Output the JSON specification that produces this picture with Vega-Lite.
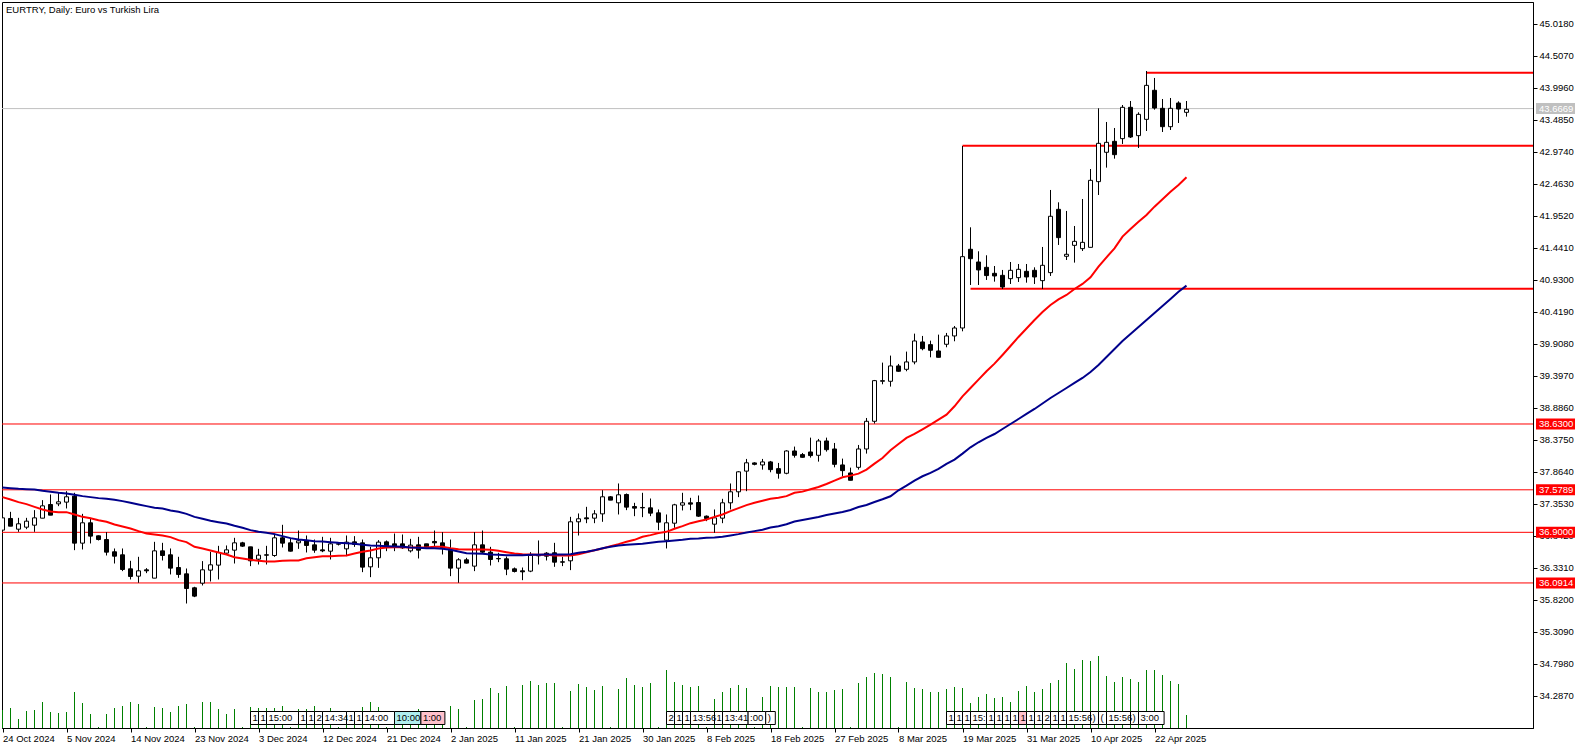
{
  "$schema": "https://vega.github.io/schema/vega-lite/v6.json",
  "width": 1531,
  "height": 726,
  "padding": {"left": 2, "top": 2, "right": 53, "bottom": 21},
  "autosize": "none",
  "background": "white",
  "title": {"text": "EURTRY, Daily:  Euro vs Turkish Lira", "anchor": "start", "frame": "group", "font": "Liberation Sans", "fontSize": 9.5, "fontWeight": "normal", "color": "#000000", "baseline": "top", "offset": -12, "dx": 4},
  "config": {
    "view": {"stroke": "#000000", "strokeWidth": 1},
    "scale": {"continuousPadding": 0},
    "axis": {"grid": false, "domainColor": "#000000", "tickColor": "#000000", "labelColor": "#000000", "labelFont": "Liberation Sans", "labelFontSize": 9.5, "labelOverlap": false, "labelFlush": false, "tickSize": 4, "labelPadding": 2, "title": null}
  },
  "datasets": {
    "bars": [
      {"bar":0,"open":36.935,"high":37.131,"low":36.935,"close":37.131,"volume":18,"ma20":37.462,"ma50":37.616},
      {"bar":1,"open":37.121,"high":37.227,"low":36.998,"close":36.998,"volume":20,"ma20":37.424,"ma50":37.605},
      {"bar":2,"open":36.950,"high":37.131,"low":36.908,"close":37.036,"volume":9,"ma20":37.382,"ma50":37.595},
      {"bar":3,"open":36.982,"high":37.131,"low":36.950,"close":37.078,"volume":17,"ma20":37.350,"ma50":37.589},
      {"bar":4,"open":37.014,"high":37.254,"low":36.908,"close":37.131,"volume":18,"ma20":37.307,"ma50":37.584},
      {"bar":5,"open":37.126,"high":37.414,"low":37.126,"close":37.323,"volume":26,"ma20":37.265,"ma50":37.563},
      {"bar":6,"open":37.344,"high":37.504,"low":37.174,"close":37.174,"volume":16,"ma20":37.233,"ma50":37.547},
      {"bar":7,"open":37.355,"high":37.531,"low":37.318,"close":37.387,"volume":15,"ma20":37.222,"ma50":37.531},
      {"bar":8,"open":37.382,"high":37.557,"low":37.281,"close":37.467,"volume":16,"ma20":37.222,"ma50":37.520},
      {"bar":9,"open":37.478,"high":37.531,"low":36.615,"close":36.727,"volume":36,"ma20":37.185,"ma50":37.499},
      {"bar":10,"open":36.727,"high":37.195,"low":36.626,"close":37.052,"volume":25,"ma20":37.147,"ma50":37.478},
      {"bar":11,"open":37.052,"high":37.131,"low":36.722,"close":36.839,"volume":14,"ma20":37.126,"ma50":37.462},
      {"bar":12,"open":36.844,"high":36.849,"low":36.770,"close":36.785,"volume":1,"ma20":37.094,"ma50":37.446},
      {"bar":13,"open":36.785,"high":36.903,"low":36.530,"close":36.583,"volume":14,"ma20":37.068,"ma50":37.435},
      {"bar":14,"open":36.589,"high":36.642,"low":36.402,"close":36.519,"volume":20,"ma20":37.025,"ma50":37.419},
      {"bar":15,"open":36.541,"high":36.642,"low":36.280,"close":36.306,"volume":22,"ma20":36.993,"ma50":37.398},
      {"bar":16,"open":36.317,"high":36.445,"low":36.147,"close":36.195,"volume":26,"ma20":36.961,"ma50":37.371},
      {"bar":17,"open":36.200,"high":36.509,"low":36.094,"close":36.285,"volume":24,"ma20":36.919,"ma50":37.344},
      {"bar":18,"open":36.301,"high":36.328,"low":36.248,"close":36.285,"volume":1,"ma20":36.881,"ma50":37.318},
      {"bar":19,"open":36.168,"high":36.748,"low":36.168,"close":36.604,"volume":21,"ma20":36.865,"ma50":37.291},
      {"bar":20,"open":36.604,"high":36.732,"low":36.450,"close":36.530,"volume":20,"ma20":36.849,"ma50":37.281},
      {"bar":21,"open":36.541,"high":36.642,"low":36.227,"close":36.328,"volume":16,"ma20":36.823,"ma50":37.249},
      {"bar":22,"open":36.338,"high":36.509,"low":36.173,"close":36.227,"volume":22,"ma20":36.775,"ma50":37.227},
      {"bar":23,"open":36.237,"high":36.322,"low":35.763,"close":36.003,"volume":24,"ma20":36.743,"ma50":37.195},
      {"bar":24,"open":36.014,"high":36.030,"low":35.865,"close":35.881,"volume":1,"ma20":36.668,"ma50":37.147},
      {"bar":25,"open":36.088,"high":36.440,"low":36.051,"close":36.301,"volume":26,"ma20":36.642,"ma50":37.116},
      {"bar":26,"open":36.296,"high":36.589,"low":36.115,"close":36.381,"volume":26,"ma20":36.610,"ma50":37.084},
      {"bar":27,"open":36.376,"high":36.684,"low":36.147,"close":36.578,"volume":19,"ma20":36.578,"ma50":37.062},
      {"bar":28,"open":36.567,"high":36.690,"low":36.541,"close":36.620,"volume":14,"ma20":36.546,"ma50":37.041},
      {"bar":29,"open":36.615,"high":36.812,"low":36.402,"close":36.732,"volume":19,"ma20":36.503,"ma50":37.004},
      {"bar":30,"open":36.732,"high":36.748,"low":36.668,"close":36.679,"volume":1,"ma20":36.482,"ma50":36.972},
      {"bar":31,"open":36.668,"high":36.668,"low":36.360,"close":36.445,"volume":21,"ma20":36.461,"ma50":36.935},
      {"bar":32,"open":36.471,"high":36.636,"low":36.386,"close":36.535,"volume":20,"ma20":36.445,"ma50":36.908},
      {"bar":33,"open":36.541,"high":36.684,"low":36.386,"close":36.535,"volume":20,"ma20":36.434,"ma50":36.892},
      {"bar":34,"open":36.530,"high":36.881,"low":36.509,"close":36.812,"volume":20,"ma20":36.434,"ma50":36.871},
      {"bar":35,"open":36.812,"high":37.020,"low":36.658,"close":36.727,"volume":22,"ma20":36.445,"ma50":36.839},
      {"bar":36,"open":36.732,"high":36.796,"low":36.594,"close":36.599,"volume":1,"ma20":36.450,"ma50":36.807},
      {"bar":37,"open":36.732,"high":36.929,"low":36.636,"close":36.764,"volume":19,"ma20":36.450,"ma50":36.785},
      {"bar":38,"open":36.764,"high":36.849,"low":36.578,"close":36.690,"volume":19,"ma20":36.487,"ma50":36.775},
      {"bar":39,"open":36.700,"high":36.785,"low":36.573,"close":36.615,"volume":22,"ma20":36.503,"ma50":36.759},
      {"bar":40,"open":36.620,"high":36.828,"low":36.583,"close":36.604,"volume":12,"ma20":36.519,"ma50":36.754},
      {"bar":41,"open":36.599,"high":36.812,"low":36.466,"close":36.716,"volume":20,"ma20":36.519,"ma50":36.743},
      {"bar":42,"open":36.716,"high":36.732,"low":36.690,"close":36.711,"volume":1,"ma20":36.525,"ma50":36.732},
      {"bar":43,"open":36.636,"high":36.849,"low":36.519,"close":36.743,"volume":14,"ma20":36.530,"ma50":36.727},
      {"bar":44,"open":36.748,"high":36.839,"low":36.668,"close":36.706,"volume":14,"ma20":36.562,"ma50":36.716},
      {"bar":45,"open":36.732,"high":36.785,"low":36.264,"close":36.344,"volume":21,"ma20":36.589,"ma50":36.700},
      {"bar":46,"open":36.349,"high":36.668,"low":36.184,"close":36.493,"volume":26,"ma20":36.610,"ma50":36.690},
      {"bar":47,"open":36.493,"high":36.775,"low":36.333,"close":36.743,"volume":21,"ma20":36.642,"ma50":36.684},
      {"bar":48,"open":36.748,"high":36.770,"low":36.599,"close":36.668,"volume":1,"ma20":36.658,"ma50":36.679},
      {"bar":49,"open":36.716,"high":36.881,"low":36.599,"close":36.668,"volume":12,"ma20":36.663,"ma50":36.674},
      {"bar":50,"open":36.716,"high":36.865,"low":36.636,"close":36.652,"volume":12,"ma20":36.663,"ma50":36.668},
      {"bar":51,"open":36.604,"high":36.796,"low":36.578,"close":36.695,"volume":12,"ma20":36.658,"ma50":36.658},
      {"bar":52,"open":36.700,"high":36.828,"low":36.482,"close":36.615,"volume":19,"ma20":36.658,"ma50":36.652},
      {"bar":53,"open":36.716,"high":36.716,"low":36.652,"close":36.668,"volume":12,"ma20":36.658,"ma50":36.647},
      {"bar":54,"open":36.754,"high":36.929,"low":36.668,"close":36.732,"volume":12,"ma20":36.668,"ma50":36.647},
      {"bar":55,"open":36.732,"high":36.903,"low":36.546,"close":36.647,"volume":12,"ma20":36.668,"ma50":36.636},
      {"bar":56,"open":36.615,"high":36.785,"low":36.200,"close":36.328,"volume":22,"ma20":36.647,"ma50":36.620},
      {"bar":57,"open":36.328,"high":36.487,"low":36.094,"close":36.461,"volume":19,"ma20":36.631,"ma50":36.594},
      {"bar":58,"open":36.461,"high":36.493,"low":36.402,"close":36.408,"volume":1,"ma20":36.626,"ma50":36.567},
      {"bar":59,"open":36.360,"high":36.903,"low":36.280,"close":36.700,"volume":28,"ma20":36.626,"ma50":36.562},
      {"bar":60,"open":36.700,"high":36.929,"low":36.562,"close":36.583,"volume":29,"ma20":36.626,"ma50":36.557},
      {"bar":61,"open":36.583,"high":36.668,"low":36.370,"close":36.466,"volume":40,"ma20":36.620,"ma50":36.546},
      {"bar":62,"open":36.482,"high":36.573,"low":36.423,"close":36.477,"volume":35,"ma20":36.604,"ma50":36.541},
      {"bar":63,"open":36.477,"high":36.514,"low":36.216,"close":36.312,"volume":42,"ma20":36.583,"ma50":36.535},
      {"bar":64,"open":36.317,"high":36.338,"low":36.259,"close":36.275,"volume":1,"ma20":36.562,"ma50":36.535},
      {"bar":65,"open":36.285,"high":36.338,"low":36.136,"close":36.269,"volume":43,"ma20":36.551,"ma50":36.535},
      {"bar":66,"open":36.280,"high":36.583,"low":36.264,"close":36.530,"volume":47,"ma20":36.546,"ma50":36.541},
      {"bar":67,"open":36.541,"high":36.770,"low":36.386,"close":36.525,"volume":43,"ma20":36.541,"ma50":36.541},
      {"bar":68,"open":36.567,"high":36.583,"low":36.450,"close":36.519,"volume":45,"ma20":36.541,"ma50":36.546},
      {"bar":69,"open":36.573,"high":36.732,"low":36.349,"close":36.423,"volume":45,"ma20":36.530,"ma50":36.546},
      {"bar":70,"open":36.429,"high":36.509,"low":36.360,"close":36.423,"volume":1,"ma20":36.530,"ma50":36.546},
      {"bar":71,"open":36.445,"high":37.147,"low":36.296,"close":37.068,"volume":37,"ma20":36.530,"ma50":36.551},
      {"bar":72,"open":37.068,"high":37.201,"low":36.849,"close":37.116,"volume":44,"ma20":36.551,"ma50":36.573},
      {"bar":73,"open":37.131,"high":37.307,"low":37.046,"close":37.116,"volume":41,"ma20":36.583,"ma50":36.589},
      {"bar":74,"open":37.126,"high":37.254,"low":37.046,"close":37.195,"volume":38,"ma20":36.615,"ma50":36.615},
      {"bar":75,"open":37.195,"high":37.573,"low":37.068,"close":37.467,"volume":42,"ma20":36.642,"ma50":36.647},
      {"bar":76,"open":37.467,"high":37.478,"low":37.414,"close":37.414,"volume":1,"ma20":36.679,"ma50":36.668},
      {"bar":77,"open":37.371,"high":37.680,"low":37.185,"close":37.499,"volume":39,"ma20":36.711,"ma50":36.690},
      {"bar":78,"open":37.504,"high":37.520,"low":37.254,"close":37.302,"volume":50,"ma20":36.748,"ma50":36.700},
      {"bar":79,"open":37.312,"high":37.371,"low":37.158,"close":37.286,"volume":43,"ma20":36.780,"ma50":36.711},
      {"bar":80,"open":37.297,"high":37.531,"low":37.142,"close":37.291,"volume":41,"ma20":36.828,"ma50":36.716},
      {"bar":81,"open":37.291,"high":37.440,"low":37.158,"close":37.206,"volume":45,"ma20":36.855,"ma50":36.732},
      {"bar":82,"open":37.211,"high":37.265,"low":36.935,"close":37.062,"volume":1,"ma20":36.887,"ma50":36.748},
      {"bar":83,"open":36.775,"high":37.185,"low":36.642,"close":37.052,"volume":58,"ma20":36.908,"ma50":36.759},
      {"bar":84,"open":37.046,"high":37.355,"low":36.972,"close":37.339,"volume":46,"ma20":36.956,"ma50":36.770},
      {"bar":85,"open":37.334,"high":37.531,"low":37.249,"close":37.371,"volume":43,"ma20":36.998,"ma50":36.780},
      {"bar":86,"open":37.371,"high":37.451,"low":37.254,"close":37.350,"volume":41,"ma20":37.046,"ma50":36.796},
      {"bar":87,"open":37.376,"high":37.488,"low":37.147,"close":37.158,"volume":42,"ma20":37.078,"ma50":36.801},
      {"bar":88,"open":37.158,"high":37.169,"low":37.078,"close":37.121,"volume":1,"ma20":37.105,"ma50":36.812},
      {"bar":89,"open":37.030,"high":37.265,"low":36.892,"close":37.131,"volume":29,"ma20":37.147,"ma50":36.817},
      {"bar":90,"open":37.126,"high":37.435,"low":37.046,"close":37.371,"volume":36,"ma20":37.185,"ma50":36.828},
      {"bar":91,"open":37.371,"high":37.680,"low":37.265,"close":37.547,"volume":40,"ma20":37.238,"ma50":36.849},
      {"bar":92,"open":37.547,"high":37.877,"low":37.462,"close":37.866,"volume":43,"ma20":37.286,"ma50":36.871},
      {"bar":93,"open":37.877,"high":38.072,"low":37.557,"close":38.010,"volume":40,"ma20":37.334,"ma50":36.897},
      {"bar":94,"open":38.008,"high":38.018,"low":37.970,"close":37.986,"volume":1,"ma20":37.371,"ma50":36.919},
      {"bar":95,"open":37.976,"high":38.072,"low":37.901,"close":38.024,"volume":31,"ma20":37.403,"ma50":36.940},
      {"bar":96,"open":38.024,"high":38.040,"low":37.859,"close":37.901,"volume":42,"ma20":37.435,"ma50":36.977},
      {"bar":97,"open":37.917,"high":38.008,"low":37.757,"close":37.843,"volume":41,"ma20":37.451,"ma50":36.998},
      {"bar":98,"open":37.843,"high":38.210,"low":37.827,"close":38.199,"volume":41,"ma20":37.478,"ma50":37.030},
      {"bar":99,"open":38.199,"high":38.269,"low":38.093,"close":38.130,"volume":41,"ma20":37.531,"ma50":37.073},
      {"bar":100,"open":38.141,"high":38.167,"low":38.093,"close":38.098,"volume":1,"ma20":37.550,"ma50":37.097},
      {"bar":101,"open":38.183,"high":38.412,"low":38.093,"close":38.125,"volume":40,"ma20":37.587,"ma50":37.121},
      {"bar":102,"open":38.130,"high":38.391,"low":38.029,"close":38.359,"volume":36,"ma20":37.624,"ma50":37.145},
      {"bar":103,"open":38.359,"high":38.412,"low":38.189,"close":38.220,"volume":36,"ma20":37.672,"ma50":37.177},
      {"bar":104,"open":38.231,"high":38.327,"low":37.938,"close":37.986,"volume":38,"ma20":37.725,"ma50":37.201},
      {"bar":105,"open":37.976,"high":38.077,"low":37.795,"close":37.885,"volume":39,"ma20":37.779,"ma50":37.225},
      {"bar":106,"open":37.848,"high":37.933,"low":37.731,"close":37.731,"volume":1,"ma20":37.805,"ma50":37.257},
      {"bar":107,"open":37.938,"high":38.295,"low":37.901,"close":38.231,"volume":45,"ma20":37.837,"ma50":37.305},
      {"bar":108,"open":38.231,"high":38.726,"low":38.157,"close":38.673,"volume":51,"ma20":37.901,"ma50":37.337},
      {"bar":109,"open":38.673,"high":39.333,"low":38.636,"close":39.322,"volume":55,"ma20":37.997,"ma50":37.385},
      {"bar":110,"open":39.312,"high":39.610,"low":39.264,"close":39.322,"volume":54,"ma20":38.087,"ma50":37.428},
      {"bar":111,"open":39.312,"high":39.722,"low":39.227,"close":39.557,"volume":51,"ma20":38.210,"ma50":37.475},
      {"bar":112,"open":39.557,"high":39.589,"low":39.466,"close":39.472,"volume":1,"ma20":38.311,"ma50":37.571},
      {"bar":113,"open":39.503,"high":39.786,"low":39.472,"close":39.621,"volume":46,"ma20":38.407,"ma50":37.646},
      {"bar":114,"open":39.621,"high":40.073,"low":39.583,"close":39.956,"volume":40,"ma20":38.471,"ma50":37.726},
      {"bar":115,"open":39.940,"high":40.036,"low":39.807,"close":39.833,"volume":39,"ma20":38.545,"ma50":37.795},
      {"bar":116,"open":39.897,"high":39.961,"low":39.695,"close":39.807,"volume":36,"ma20":38.620,"ma50":37.848},
      {"bar":117,"open":39.796,"high":40.057,"low":39.695,"close":39.695,"volume":36,"ma20":38.700,"ma50":37.912},
      {"bar":118,"open":39.903,"high":40.084,"low":39.855,"close":40.036,"volume":39,"ma20":38.780,"ma50":37.992},
      {"bar":119,"open":40.036,"high":40.195,"low":39.951,"close":40.163,"volume":41,"ma20":38.913,"ma50":38.061},
      {"bar":120,"open":40.163,"high":43.070,"low":40.110,"close":41.302,"volume":40,"ma20":39.072,"ma50":38.157},
      {"bar":121,"open":41.420,"high":41.771,"low":40.850,"close":41.270,"volume":25,"ma20":39.205,"ma50":38.258},
      {"bar":122,"open":41.217,"high":41.388,"low":40.850,"close":41.090,"volume":31,"ma20":39.338,"ma50":38.338},
      {"bar":123,"open":41.132,"high":41.324,"low":40.930,"close":41.000,"volume":34,"ma20":39.472,"ma50":38.407},
      {"bar":124,"open":41.036,"high":41.153,"low":40.903,"close":40.994,"volume":30,"ma20":39.594,"ma50":38.470},
      {"bar":125,"open":41.004,"high":41.090,"low":40.786,"close":40.818,"volume":31,"ma20":39.732,"ma50":38.550},
      {"bar":126,"open":40.951,"high":41.217,"low":40.866,"close":41.084,"volume":26,"ma20":39.876,"ma50":38.630},
      {"bar":127,"open":40.967,"high":41.185,"low":40.898,"close":41.100,"volume":37,"ma20":40.020,"ma50":38.710},
      {"bar":128,"open":41.068,"high":41.185,"low":40.887,"close":40.978,"volume":42,"ma20":40.155,"ma50":38.790},
      {"bar":129,"open":41.084,"high":41.132,"low":40.866,"close":40.978,"volume":36,"ma20":40.291,"ma50":38.870},
      {"bar":130,"open":40.919,"high":41.457,"low":40.786,"close":41.164,"volume":39,"ma20":40.419,"ma50":38.957},
      {"bar":131,"open":41.047,"high":42.367,"low":40.994,"close":41.947,"volume":45,"ma20":40.531,"ma50":39.045},
      {"bar":132,"open":42.058,"high":42.170,"low":41.489,"close":41.606,"volume":48,"ma20":40.621,"ma50":39.125},
      {"bar":133,"open":41.308,"high":42.032,"low":41.249,"close":41.340,"volume":65,"ma20":40.690,"ma50":39.205},
      {"bar":134,"open":41.483,"high":41.792,"low":41.207,"close":41.547,"volume":59,"ma20":40.786,"ma50":39.285},
      {"bar":135,"open":41.430,"high":42.223,"low":41.393,"close":41.531,"volume":68,"ma20":40.866,"ma50":39.365},
      {"bar":136,"open":41.451,"high":42.702,"low":41.451,"close":42.521,"volume":67,"ma20":40.972,"ma50":39.460},
      {"bar":137,"open":42.500,"high":43.671,"low":42.287,"close":43.112,"volume":72,"ma20":41.143,"ma50":39.572},
      {"bar":138,"open":42.969,"high":43.453,"low":42.724,"close":43.128,"volume":52,"ma20":41.292,"ma50":39.700},
      {"bar":139,"open":43.144,"high":43.357,"low":42.867,"close":42.931,"volume":46,"ma20":41.435,"ma50":39.828},
      {"bar":140,"open":43.187,"high":43.724,"low":43.102,"close":43.687,"volume":51,"ma20":41.622,"ma50":39.955},
      {"bar":141,"open":43.687,"high":43.788,"low":43.197,"close":43.213,"volume":49,"ma20":41.744,"ma50":40.067},
      {"bar":142,"open":43.235,"high":43.607,"low":43.038,"close":43.575,"volume":46,"ma20":41.861,"ma50":40.179},
      {"bar":143,"open":43.495,"high":44.267,"low":43.309,"close":44.038,"volume":58,"ma20":41.968,"ma50":40.291},
      {"bar":144,"open":43.959,"high":44.156,"low":43.650,"close":43.676,"volume":58,"ma20":42.101,"ma50":40.403},
      {"bar":145,"open":43.671,"high":43.820,"low":43.293,"close":43.378,"volume":53,"ma20":42.218,"ma50":40.514},
      {"bar":146,"open":43.378,"high":43.836,"low":43.325,"close":43.671,"volume":47,"ma20":42.340,"ma50":40.626},
      {"bar":147,"open":43.756,"high":43.783,"low":43.437,"close":43.660,"volume":44,"ma20":42.447,"ma50":40.743},
      {"bar":148,"open":43.607,"high":43.788,"low":43.538,"close":43.655,"volume":13,"ma20":42.569,"ma50":40.839}
    ],
    "levels": [
      {"level":38.63,"label":"38.6300"},
      {"level":37.5789,"label":"37.5789"},
      {"level":36.9,"label":"36.9000"},
      {"level":36.0914,"label":"36.0914"}
    ],
    "last": [{"level":43.6669,"label":"43.6669"}],
    "zones": [
      {"bar":143,"level":44.238},
      {"bar":120,"level":43.072},
      {"bar":121,"level":40.788}
    ],
    "sessions": [
      {"bar":31,"end":32,"label":"1","kind":"plain"},
      {"bar":32,"end":33,"label":"1","kind":"plain"},
      {"bar":33,"end":37,"label":"15:00","kind":"plain"},
      {"bar":37,"end":38,"label":"1","kind":"plain"},
      {"bar":38,"end":39,"label":"1","kind":"plain"},
      {"bar":39,"end":40,"label":"2","kind":"plain"},
      {"bar":40,"end":43,"label":"14:34","kind":"plain"},
      {"bar":43,"end":44,"label":"1","kind":"plain"},
      {"bar":44,"end":45,"label":"1","kind":"plain"},
      {"bar":45,"end":49,"label":"14:00","kind":"plain"},
      {"bar":49,"end":52.3,"label":"10:00","kind":"cyan"},
      {"bar":52.3,"end":55.3,"label":"1:00","kind":"pink"},
      {"bar":83,"end":84,"label":"2","kind":"plain"},
      {"bar":84,"end":85,"label":"1","kind":"plain"},
      {"bar":85,"end":86,"label":"1","kind":"plain"},
      {"bar":86,"end":89,"label":"13:56","kind":"plain"},
      {"bar":89,"end":90,"label":"1","kind":"plain"},
      {"bar":90,"end":93.2,"label":"13:41","kind":"plain"},
      {"bar":93.2,"end":95.4,"label":":00","kind":"plain"},
      {"bar":95.4,"end":96.6,"label":")","kind":"plain"},
      {"bar":118,"end":119,"label":"1","kind":"plain"},
      {"bar":119,"end":120,"label":"1","kind":"plain"},
      {"bar":120,"end":121,"label":"1","kind":"plain"},
      {"bar":121,"end":123,"label":"15:","kind":"plain"},
      {"bar":123,"end":124,"label":"1","kind":"plain"},
      {"bar":124,"end":125,"label":"1","kind":"plain"},
      {"bar":125,"end":126,"label":"1","kind":"plain"},
      {"bar":126,"end":127,"label":"1","kind":"plain"},
      {"bar":127,"end":128,"label":"1","kind":"pink"},
      {"bar":128,"end":129,"label":"1","kind":"plain"},
      {"bar":129,"end":130,"label":"1","kind":"plain"},
      {"bar":130,"end":131,"label":"2","kind":"plain"},
      {"bar":131,"end":132,"label":"1","kind":"plain"},
      {"bar":132,"end":133,"label":"1","kind":"plain"},
      {"bar":133,"end":136,"label":"15:56","kind":"plain"},
      {"bar":136,"end":137,"label":")","kind":"plain"},
      {"bar":137,"end":138,"label":"(","kind":"plain"},
      {"bar":138,"end":141,"label":"15:56","kind":"plain"},
      {"bar":141,"end":142,"label":")","kind":"plain"},
      {"bar":142,"end":145.2,"label":"3:00","kind":"plain"}
    ]
  },
  "layer": [
    {
      "layer": [
        {
          "data": {"name": "bars"},
          "mark": {"type": "rule", "color": "#008000", "strokeWidth": 1, "clip": true},
          "encoding": {
            "x": {"field": "bar", "type": "quantitative", "scale": {"domain": [-0.0625, 191.3125]}, "axis": null},
            "y": {"field": "volume", "type": "quantitative", "scale": {"domain": [0, 726]}, "axis": null},
            "y2": {"datum": 0}
          }
        },
        {
          "data": {"name": "sessions"},
          "mark": {"type": "rect", "stroke": "#000000", "strokeWidth": 1},
          "encoding": {
            "x": {"field": "bar", "type": "quantitative", "scale": {"domain": [-0.0625, 191.3125]}, "axis": null},
            "x2": {"field": "end"},
            "y": {"datum": 16.5, "type": "quantitative", "scale": {"domain": [0, 726]}, "axis": null},
            "y2": {"datum": 3.5},
            "fill": {"field": "kind", "type": "nominal", "scale": {"domain": ["plain", "cyan", "pink"], "range": ["#ffffff", "#afeeee", "#ffc0cb"]}, "legend": null}
          }
        },
        {
          "data": {"name": "sessions"},
          "mark": {"type": "text", "align": "left", "baseline": "middle", "dx": 2, "font": "Liberation Sans", "fontSize": 9.5, "color": "#000000"},
          "encoding": {
            "x": {"field": "bar", "type": "quantitative", "scale": {"domain": [-0.0625, 191.3125]}, "axis": null},
            "y": {"datum": 10, "type": "quantitative", "scale": {"domain": [0, 726]}, "axis": null},
            "text": {"field": "label"}
          }
        }
      ]
    },
    {
      "layer": [
        {
          "data": {"name": "last"},
          "mark": {"type": "rule", "color": "#c0c0c0", "strokeWidth": 1},
          "encoding": {
            "y": {"field": "level", "type": "quantitative", "scale": {"domain": [33.775, 45.369]}}
          }
        },
        {
          "data": {"name": "levels"},
          "mark": {"type": "rule", "color": "#ff0000", "strokeWidth": 1},
          "encoding": {
            "y": {"field": "level", "type": "quantitative", "scale": {"domain": [33.775, 45.369]}}
          }
        },
        {
          "data": {"name": "zones"},
          "mark": {"type": "rule", "color": "#ff0000", "strokeWidth": 2},
          "encoding": {
            "x": {"field": "bar", "type": "quantitative", "scale": {"domain": [-0.0625, 191.3125]}},
            "x2": {"datum": 191.3125},
            "y": {"field": "level", "type": "quantitative", "scale": {"domain": [33.775, 45.369]}}
          }
        },
        {
          "data": {"name": "bars"},
          "mark": {"type": "rule", "color": "#000000", "strokeWidth": 1, "clip": true},
          "encoding": {
            "x": {
              "field": "bar", "type": "quantitative", "scale": {"domain": [-0.0625, 191.3125]},
              "axis": {
                "title": null,
                "values": [0, 8, 16, 24, 32, 40, 48, 56, 64, 72, 80, 88, 96, 104, 112, 120, 128, 136, 144],
                "tickCount": 40,
                "labelExpr": "{'0':'24 Oct 2024','8':'5 Nov 2024','16':'14 Nov 2024','24':'23 Nov 2024','32':'3 Dec 2024','40':'12 Dec 2024','48':'21 Dec 2024','56':'2 Jan 2025','64':'11 Jan 2025','72':'21 Jan 2025','80':'30 Jan 2025','88':'8 Feb 2025','96':'18 Feb 2025','104':'27 Feb 2025','112':'8 Mar 2025','120':'19 Mar 2025','128':'31 Mar 2025','136':'10 Apr 2025','144':'22 Apr 2025'}[datum.value]",
                "labelAlign": "left",
                "labelBaseline": "top",
                "labelOverlap": false,
                "labelPadding": 1
              }
            },
            "y": {
              "field": "low", "type": "quantitative", "scale": {"domain": [33.775, 45.369]},
              "axis": {
                "title": null,
                "orient": "right",
                "values": [45.018, 44.507, 43.996, 43.485, 42.974, 42.463, 41.952, 41.441, 40.93, 40.419, 39.908, 39.397, 38.886, 38.375, 37.864, 37.353, 36.842, 36.331, 35.82, 35.309, 34.798, 34.287],
                "tickCount": 40,
                "labelOverlap": false,
                "format": ".4f"
              }
            },
            "y2": {"field": "high"}
          }
        },
        {
          "data": {"name": "bars"},
          "mark": {"type": "bar", "size": 4, "stroke": "#000000", "strokeWidth": 1, "clip": true},
          "encoding": {
            "x": {"field": "bar", "type": "quantitative", "scale": {"domain": [-0.0625, 191.3125]}},
            "y": {"field": "open", "type": "quantitative", "scale": {"domain": [33.775, 45.369]}},
            "y2": {"field": "close"},
            "fill": {"condition": {"test": "datum.close >= datum.open", "value": "#ffffff"}, "value": "#000000"}
          }
        },
        {
          "data": {"name": "bars"},
          "mark": {"type": "line", "color": "#ff0000", "strokeWidth": 2, "clip": true},
          "encoding": {
            "x": {"field": "bar", "type": "quantitative", "scale": {"domain": [-0.0625, 191.3125]}},
            "y": {"field": "ma20", "type": "quantitative", "scale": {"domain": [33.775, 45.369]}}
          }
        },
        {
          "data": {"name": "bars"},
          "mark": {"type": "line", "color": "#00008b", "strokeWidth": 2, "clip": true},
          "encoding": {
            "x": {"field": "bar", "type": "quantitative", "scale": {"domain": [-0.0625, 191.3125]}},
            "y": {"field": "ma50", "type": "quantitative", "scale": {"domain": [33.775, 45.369]}}
          }
        }
      ]
    },
    {
      "layer": [
        {
          "data": {"name": "levels"},
          "mark": {"type": "rule", "color": "#ff0000", "strokeWidth": 11},
          "encoding": {
            "x": {"datum": 0, "type": "quantitative", "scale": {"domain": [0, 1], "range": [1534, 1573]}, "axis": null},
            "x2": {"datum": 1},
            "y": {"field": "level", "type": "quantitative", "scale": {"domain": [33.775, 45.369]}, "axis": null}
          }
        },
        {
          "data": {"name": "last"},
          "mark": {"type": "rule", "color": "#c0c0c0", "strokeWidth": 11},
          "encoding": {
            "x": {"datum": 0, "type": "quantitative", "scale": {"domain": [0, 1], "range": [1534, 1573]}, "axis": null},
            "x2": {"datum": 1},
            "y": {"field": "level", "type": "quantitative", "scale": {"domain": [33.775, 45.369]}, "axis": null}
          }
        },
        {
          "data": {"name": "levels"},
          "mark": {"type": "text", "align": "left", "baseline": "middle", "dx": 3, "font": "Liberation Sans", "fontSize": 9.5, "color": "#ffffff"},
          "encoding": {
            "x": {"datum": 0, "type": "quantitative", "scale": {"domain": [0, 1], "range": [1534, 1573]}, "axis": null},
            "y": {"field": "level", "type": "quantitative", "scale": {"domain": [33.775, 45.369]}, "axis": null},
            "text": {"field": "label"}
          }
        },
        {
          "data": {"name": "last"},
          "mark": {"type": "text", "align": "left", "baseline": "middle", "dx": 3, "font": "Liberation Sans", "fontSize": 9.5, "color": "#ffffff"},
          "encoding": {
            "x": {"datum": 0, "type": "quantitative", "scale": {"domain": [0, 1], "range": [1534, 1573]}, "axis": null},
            "y": {"field": "level", "type": "quantitative", "scale": {"domain": [33.775, 45.369]}, "axis": null},
            "text": {"field": "label"}
          }
        }
      ]
    }
  ],
  "resolve": {"scale": {"x": "independent", "y": "independent"}}
}
